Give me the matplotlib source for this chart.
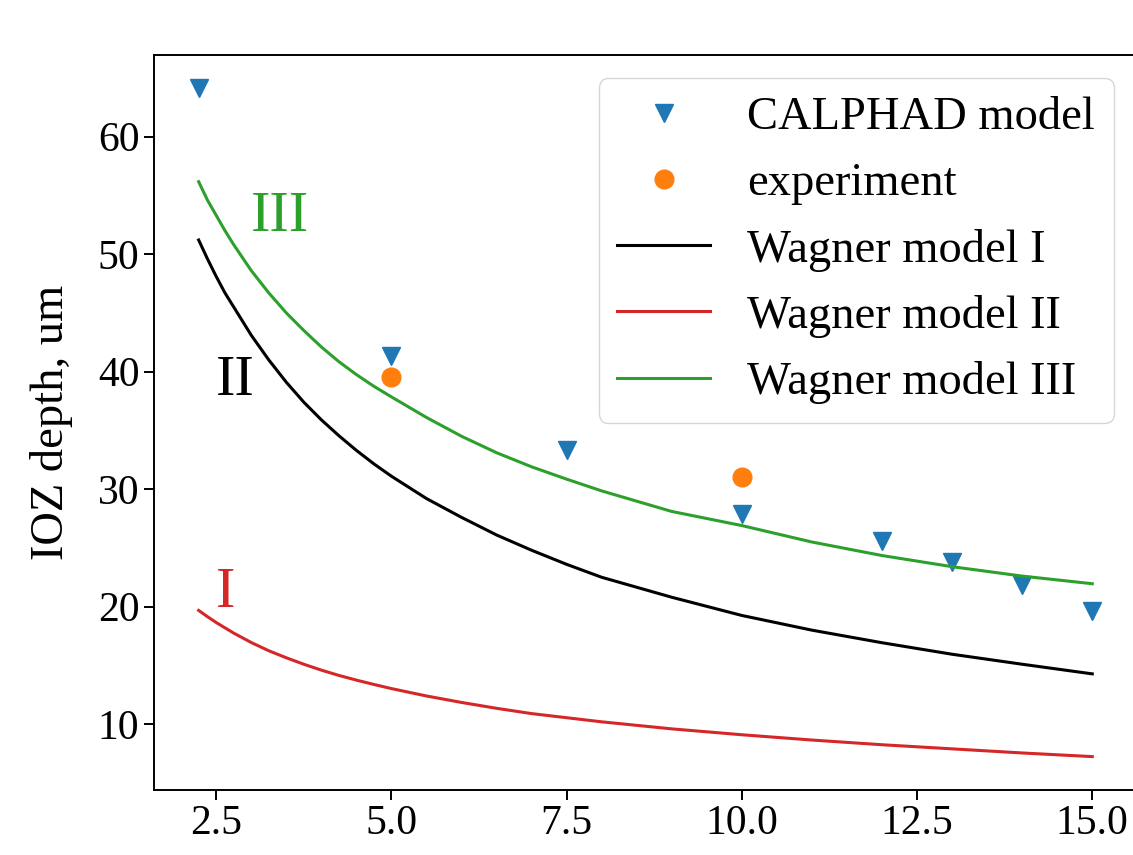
import matplotlib
matplotlib.use('Agg')
import matplotlib.pyplot as plt

plt.rcParams['font.family'] = 'serif'
plt.rcParams['font.serif'] = ['Liberation Serif', 'DejaVu Serif']

# CALPHAD model points and experiment
x_calphad = [2.25, 5.0, 7.5, 10.0, 12.0, 13.0, 14.0, 15.0]
y_calphad = [64.1, 41.3, 33.3, 27.9, 25.6, 23.8, 21.8, 19.6]
x_exp = [5.0, 10.0]
y_exp = [39.5, 31.0]

# Wagner model curves
x_model = [2.25, 2.375, 2.5, 2.625, 2.75, 2.875, 3.0, 3.25, 3.5, 3.75, 4.0,
           4.25, 4.5, 4.75, 5.0, 5.5, 6.0, 6.5, 7.0, 7.5, 8.0, 9.0, 10.0, 11.0,
           12.0, 13.0, 14.0, 15.0]
y_wagner1 = [51.2, 49.6, 48.1, 46.7, 45.5, 44.3, 43.1, 41.0, 39.1, 37.4, 35.9,
             34.55, 33.3, 32.15, 31.1, 29.2, 27.6, 26.1, 24.8, 23.6, 22.5, 20.8,
             19.25, 18.0, 16.93, 15.95, 15.1, 14.28]
y_wagner2 = [19.68, 19.15, 18.65, 18.2, 17.75, 17.35, 16.95, 16.25, 15.65, 15.1,
             14.6, 14.15, 13.75, 13.38, 13.03, 12.4, 11.85, 11.35, 10.9, 10.55,
             10.2, 9.6, 9.1, 8.65, 8.25, 7.9, 7.55, 7.24]
y_wagner3 = [56.16, 54.6, 53.3, 52.0, 50.8, 49.7, 48.6, 46.7, 45.0, 43.5, 42.1,
             40.85, 39.75, 38.75, 37.85, 36.1, 34.5, 33.1, 31.9, 30.85, 29.85,
             28.1, 26.9, 25.5, 24.35, 23.4, 22.6, 21.95]

fig = plt.figure(figsize=(11.33, 8.55), dpi=100)
ax = fig.add_axes([0.1359, 0.076, 0.8676, 0.8597])

ax.plot(x_calphad, y_calphad, 'v', color='tab:blue', ms=13.5, ls='none', label='CALPHAD model')
ax.plot(x_exp, y_exp, 'o', color='tab:orange', ms=13.5, ls='none', label='experiment')
ax.plot(x_model, y_wagner1, color='black', lw=2.2, label='Wagner model I')
ax.plot(x_model, y_wagner2, color='tab:red', lw=2.2, label='Wagner model II')
ax.plot(x_model, y_wagner3, color='tab:green', lw=2.2, label='Wagner model III')

ax.text(3.0, 52, 'III', color='tab:green', fontsize=42)
ax.text(2.5, 38, 'II', color='black', fontsize=42)
ax.text(2.5, 20, 'I', color='tab:red', fontsize=42)

ax.set_ylabel('IOZ depth, um', fontsize=33.5, labelpad=18)
ax.tick_params(labelsize=30, length=7, width=1.4)
for s in ax.spines.values():
    s.set_linewidth(1.4)
ax.legend(fontsize=33.5, loc='upper right')

fig.savefig('out.png', dpi=100)
